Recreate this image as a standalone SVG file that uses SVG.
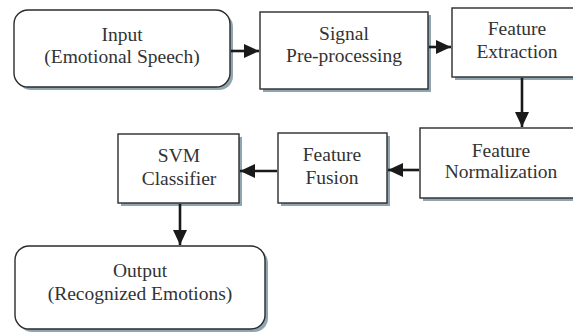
<svg xmlns="http://www.w3.org/2000/svg" width="573" height="332" viewBox="0 0 573 332">
  <style>
    .shadow { fill: #8fa6b1; }
    .box { fill: #ffffff; stroke: #2b2b2b; stroke-width: 1.4; }
    .lbl { font-family: "Liberation Serif", "Times New Roman", serif; font-size: 19.5px; fill: #333333; text-anchor: middle; }
    .wire { stroke: #1a1a1a; stroke-width: 2.6; fill: none; marker-end: url(#head); }
  </style>
  <defs>
    <marker id="head" viewBox="0 0 15 14" refX="15" refY="7" markerWidth="15" markerHeight="14" markerUnits="userSpaceOnUse" orient="auto">
      <path d="M0,0 L15,7 L0,14 Z" fill="#1a1a1a"/>
    </marker>
  </defs>

  <rect width="573" height="332" fill="#ffffff"/>

  <g id="input">
    <rect class="shadow" x="17" y="13" width="216" height="77" rx="14"/>
    <rect class="box" x="14" y="10" width="216" height="77" rx="14"/>
    <text class="lbl" x="122" y="41">Input</text>
    <text class="lbl" x="122" y="63">(Emotional Speech)</text>
  </g>

  <g id="preprocessing">
    <rect class="shadow" x="263" y="15" width="168" height="77"/>
    <rect class="box" x="260" y="12" width="168" height="77"/>
    <text class="lbl" x="344" y="40">Signal</text>
    <text class="lbl" x="344" y="62">Pre-processing</text>
  </g>

  <g id="extraction">
    <rect class="shadow" x="455" y="11" width="130" height="69"/>
    <rect class="box" x="452" y="8" width="130" height="69"/>
    <text class="lbl" x="517" y="35">Feature</text>
    <text class="lbl" x="517" y="58">Extraction</text>
  </g>

  <g id="normalization">
    <rect class="shadow" x="423" y="131" width="162" height="70"/>
    <rect class="box" x="420" y="128" width="162" height="70"/>
    <text class="lbl" x="501" y="157">Feature</text>
    <text class="lbl" x="501" y="178">Normalization</text>
  </g>

  <g id="fusion">
    <rect class="shadow" x="281" y="136" width="109" height="70"/>
    <rect class="box" x="278" y="133" width="109" height="70"/>
    <text class="lbl" x="332" y="161">Feature</text>
    <text class="lbl" x="332" y="184">Fusion</text>
  </g>

  <g id="classifier">
    <rect class="shadow" x="121" y="137" width="121" height="69"/>
    <rect class="box" x="118" y="134" width="121" height="69"/>
    <text class="lbl" x="179" y="162">SVM</text>
    <text class="lbl" x="179" y="185">Classifier</text>
  </g>

  <g id="output">
    <rect class="shadow" x="18" y="249" width="250" height="83" rx="14"/>
    <rect class="box" x="15" y="246" width="250" height="83" rx="14"/>
    <text class="lbl" x="140" y="277">Output</text>
    <text class="lbl" x="140" y="300">(Recognized Emotions)</text>
  </g>

  <g id="connectors">
    <line class="wire" x1="231" y1="51" x2="259" y2="51"/>
    <line class="wire" x1="429" y1="47" x2="451" y2="47"/>
    <line class="wire" x1="522" y1="78" x2="522" y2="127"/>
    <line class="wire" x1="419" y1="170" x2="388" y2="170"/>
    <line class="wire" x1="277" y1="171" x2="240" y2="171"/>
    <line class="wire" x1="180" y1="204" x2="180" y2="245"/>
  </g>
</svg>
